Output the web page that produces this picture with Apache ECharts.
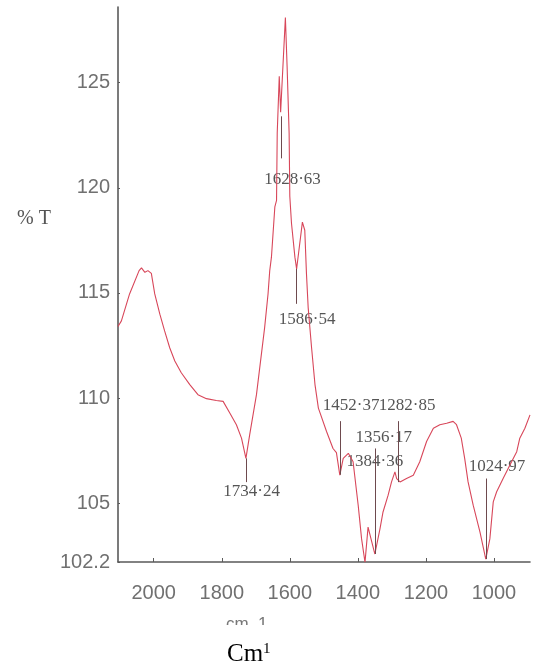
<!DOCTYPE html>
<html>
<head>
<meta charset="utf-8">
<script src="https://cdn.jsdelivr.net/npm/echarts@6/dist/echarts.min.js"></script>
<style>
html,body{margin:0;padding:0;background:#fff;}
#chart{width:540px;height:671px;}
</style>
</head>
<body>
<div id="chart"></div>
<script>
// Wavenumbers (cm-1)
var wavenumbers = [2105, 2095, 2071, 2043, 2036, 2026, 2017, 2007, 1997, 1982, 1968, 1953, 1938, 1919, 1894, 1870, 1845, 1816, 1796, 1776, 1757, 1742, 1729, 1718, 1698, 1674, 1664, 1659, 1654, 1644, 1639, 1637, 1631, 1627, 1613, 1608, 1602, 1600, 1595, 1585, 1580, 1563, 1556, 1551, 1546, 1536, 1526, 1516, 1492, 1473, 1463, 1453, 1443, 1428, 1414, 1399, 1389, 1379, 1370, 1365, 1350, 1335, 1326, 1311, 1301, 1291, 1286, 1276, 1257, 1237, 1218, 1198, 1178, 1159, 1139, 1120, 1110, 1096, 1086, 1076, 1061, 1041, 1024, 1012, 1002, 992, 973, 953, 933, 924, 909, 894];
// Transmittance (%T)
var transmittance = [113.4, 113.67, 114.95, 116.06, 116.19, 115.98, 116.06, 115.93, 114.95, 113.99, 113.19, 112.39, 111.76, 111.2, 110.64, 110.16, 109.97, 109.88, 109.84, 109.28, 108.73, 108.09, 107.13, 108.25, 110.16, 113.35, 114.95, 116.06, 116.7, 119.09, 119.4, 122.6, 125.31, 123.6, 128.1, 125.8, 122.6, 119.6, 118.3, 116.7, 116.14, 118.37, 117.98, 115.9, 114.3, 112.39, 110.64, 109.52, 108.41, 107.6, 107.4, 106.33, 107.13, 107.37, 106.97, 104.9, 103.3, 102.19, 103.86, 103.94, 102.58, 103.78, 104.58, 105.38, 106.01, 106.49, 106.17, 106.01, 106.17, 106.33, 106.97, 107.93, 108.56, 108.73, 108.8, 108.89, 108.73, 108.09, 107.13, 106.01, 104.9, 103.62, 102.34, 103.3, 105.06, 105.54, 106.17, 106.81, 107.45, 108.09, 108.56, 109.2];

// Axis ticks
var xTicks = [1000, 1200, 1400, 1600, 1800, 2000];
var yTicks = [102.2, 105, 110, 115, 120, 125];

// Peak annotations: label text, label position (wn, %T), leader line (wn, from %T, to %T)
var peakLabels = ['1628·63', '1586·54', '1734·24', '1452·37', '1282·85', '1356·17', '1384·36', '1024·97'];
var labelWn    = [1592, 1549, 1712, 1420, 1255, 1324, 1350, 991];
var labelT     = [120.37, 113.75, 105.54, 109.65, 109.65, 108.1, 106.97, 106.73];
var leaderWn   = [1625, 1581, 1729, 1451, 1282, 1350, 1379, 1024];
var leaderTop  = [123.4, 116.14, 107.13, 108.9, 108.9, 107.6, 106.65, 106.17];
var leaderBot  = [121.4, 114.48, 106.0, 106.35, 106.0, 102.58, 102.19, 102.34];

var chart = echarts.init(document.getElementById('chart'), null, {renderer: 'canvas'});

var curve = wavenumbers.map(function (w, i) { return [w, transmittance[i]]; });
var labelData = peakLabels.map(function (s, i) { return {name: s, value: [labelWn[i], labelT[i]]}; });
var leaders = leaderWn.map(function (w, i) { return [{coord: [w, leaderTop[i]]}, {coord: [w, leaderBot[i]]}]; });

var axisFont = "'Liberation Sans Narrow', 'Liberation Sans', sans-serif";

chart.setOption({
  animation: false,
  backgroundColor: '#ffffff',
  grid: {left: 118, right: 10, top: 7, bottom: 109},
  xAxis: {
    type: 'value', inverse: true, min: 894, max: 2105,
    axisLine: {lineStyle: {color: '#5a5a5a', width: 1.6}},
    axisTick: {inside: true, length: 4, customValues: xTicks, lineStyle: {color: '#5a5a5a'}},
    axisLabel: {customValues: xTicks, margin: 21, color: '#707070', fontSize: 20, fontFamily: axisFont,
      formatter: function (v) { return String(v); }},
    splitLine: {show: false}
  },
  yAxis: {
    type: 'value', min: 102.2, max: 128.6,
    axisLine: {show: true, lineStyle: {color: '#5a5a5a', width: 1.6}},
    axisTick: {show: true, inside: true, length: 2, customValues: yTicks, lineStyle: {color: '#5a5a5a'}},
    axisLabel: {customValues: yTicks, margin: 8, color: '#707070', fontSize: 20, fontFamily: axisFont,
      formatter: function (v) { return String(v); }},
    splitLine: {show: false}
  },
  series: [
    {
      type: 'line', data: curve, showSymbol: false, symbol: 'none',
      lineStyle: {color: '#d8475a', width: 1.1},
      markLine: {
        silent: true, symbol: 'none', label: {show: false},
        lineStyle: {color: '#6e4a4e', width: 1, type: 'solid'},
        data: leaders
      }
    },
    {
      type: 'scatter', data: labelData, symbolSize: 0,
      label: {
        show: true, position: 'inside', formatter: function (p) { return p.name; },
        color: '#2a2a2a', fontSize: 17, fontFamily: "'Liberation Serif', serif"
      }
    }
  ],
  graphic: [
    {type: 'text', left: 17, top: 209, style: {text: '% T', fill: '#555', font: "20px 'Liberation Serif', serif"}},
    {type: 'text', left: 226, top: 616, z: 1, style: {text: 'cm  1', fill: '#777', font: "17px 'Liberation Sans', sans-serif"}},
    {type: 'rect', left: 200, top: 625, z: 5, shape: {width: 100, height: 14}, style: {fill: '#ffffff'}},
    {type: 'text', left: 227, top: 642, z: 6, style: {
      rich: {b: {fontSize: 25, fontFamily: "'Liberation Serif', serif", fill: '#000'}, s: {fontSize: 15, fontFamily: "'Liberation Serif', serif", fill: '#000', verticalAlign: 'top'}},
      text: '{b|Cm}{s|1}'
    }}
  ]
});
</script>
</body>
</html>
